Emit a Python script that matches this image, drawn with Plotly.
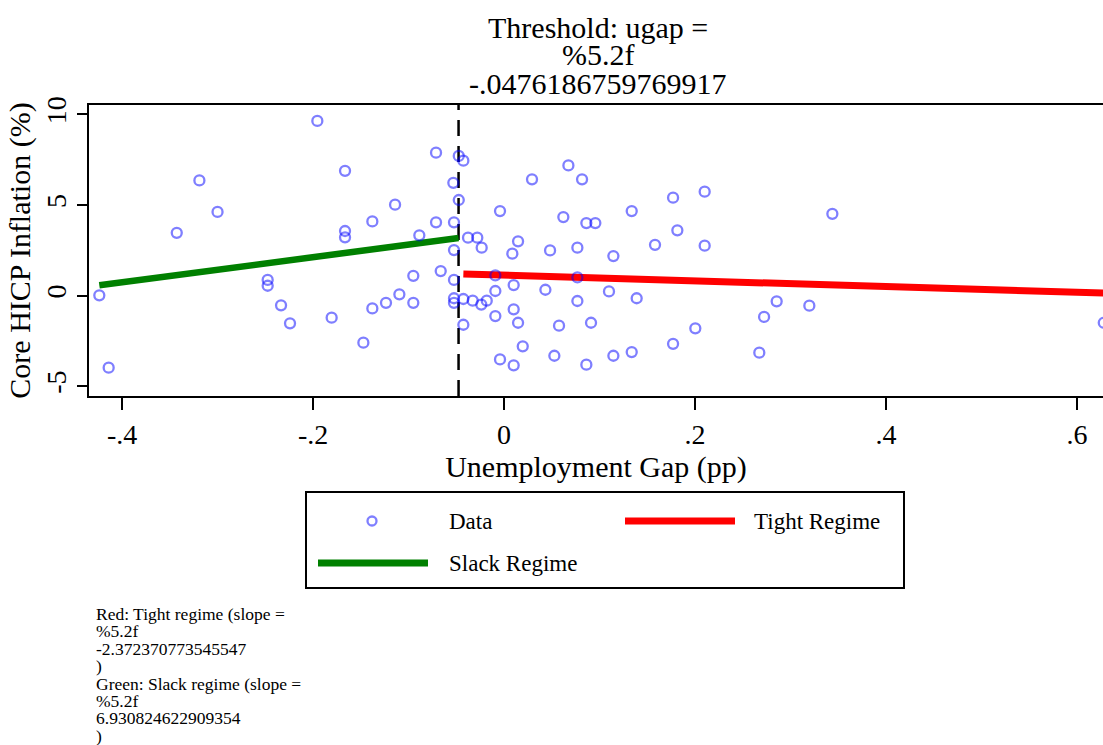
import plotly.graph_objects as go

# ---- data -------------------------------------------------------------
ugap = [
    -0.4238, -0.4140, -0.3427, -0.3190, -0.3000, -0.2475, -0.2475, -0.2335,
    -0.2241, -0.1955, -0.1805, -0.1665, -0.1665, -0.1665, -0.1473, -0.1379,
    -0.1379, -0.1236, -0.1141, -0.1096, -0.0950, -0.0950, -0.0887, -0.0712,
    -0.0712, -0.0663, -0.0531, -0.0524, -0.0524, -0.0524, -0.0524, -0.0524,
    -0.0474, -0.0426, -0.0474, -0.0377, -0.0280, -0.0234, -0.0426, -0.0328,
    -0.0238, -0.0181, -0.0426, -0.0091, -0.0091, -0.0091, -0.0042, -0.0042,
    0.0087, 0.0147, 0.0101, 0.0101, 0.0147, 0.0101, 0.0196, 0.0293,
    0.0433, 0.0482, 0.0527, 0.0576, 0.0621, 0.0674, 0.0768, 0.0768,
    0.0768, 0.0817, 0.0862, 0.0956, 0.0862, 0.0911, 0.1099, 0.1145,
    0.1145, 0.1337, 0.1337, 0.1389, 0.1581, 0.1770, 0.1815, 0.1770,
    0.2003, 0.2101, 0.2101, 0.2673, 0.2723, 0.2855, 0.3197, 0.3438,
    0.6280,
]
core_hicp = [
    0.02, -3.97, 3.47, 6.36, 4.62, 0.87, 0.55, -0.53,
    -1.52, 9.64, -1.21, 6.89, 3.57, 3.22, -2.59, 4.10,
    -0.70, -0.39, 5.02, 0.08, 1.10, -0.39, 3.33, 7.89,
    4.05, 1.36, 6.23, 4.05, 2.52, 0.87, -0.14, -0.39,
    7.71, 7.45, 5.28, 3.20, 3.20, 2.65, -0.18, -0.27,
    -0.49, -0.27, -1.60, 1.12, 0.26, -1.12, 4.67, -3.51,
    2.32, 3.00, 0.59, -0.75, -1.49, -3.84, -2.79, 6.42,
    0.33, 2.50, -3.31, -1.65, 4.34, 7.19, 2.65, 1.01,
    -0.29, 6.42, 4.01, 4.01, -3.80, -1.49, 0.24, 2.19,
    -3.31, 4.67, -3.11, -0.14, 2.81, 5.41, 3.61, -2.65,
    -1.80, 5.74, 2.76, -3.14, -1.17, -0.31, -0.55, 4.52,
    -1.49,
]

threshold = -0.0476186759769917
threshold_label = "-.0476186759769917"
tight_slope_label = "-2.372370773545547"
slack_slope_label = "6.930824622909354"

# fitted regime lines (endpoints)
slack_x = [-0.4238, -0.0476]
slack_y = [0.58, 3.18]
tight_x = [-0.0426, 0.6280]
tight_y = [1.20, 0.15]

x_tickvals = [-0.4, -0.2, 0.0, 0.2, 0.4, 0.6]
x_ticktext = ["-.4", "-.2", "0", ".2", ".4", ".6"]
y_tickvals = [-5, 0, 5, 10]
y_ticktext = ["-5", "0", "5", "10"]

# ---- layout geometry --------------------------------------------------
W, H = 1103, 745
ML, MR, MT, MB = 89, 0, 105, 349
PW = W - ML - MR
PH = H - MT - MB
FONT = "Liberation Serif"


def px(xpix):
    return (xpix - ML) / PW


def py(ypix):
    return (MT + PH - ypix) / PH


DATA_COLOR = "rgba(0,0,255,0.5)"
TIGHT_COLOR = "#ff0000"
SLACK_COLOR = "#008000"

fig = go.Figure()

fig.add_trace(go.Scatter(
    x=slack_x, y=slack_y, mode="lines",
    line=dict(color=SLACK_COLOR, width=6.5), showlegend=False,
    hoverinfo="skip",
))
fig.add_trace(go.Scatter(
    x=tight_x, y=tight_y, mode="lines",
    line=dict(color=TIGHT_COLOR, width=7), showlegend=False,
    hoverinfo="skip",
))
fig.add_trace(go.Scatter(
    x=ugap, y=core_hicp, mode="markers",
    marker=dict(symbol="circle-open", size=10, color=DATA_COLOR,
                line=dict(width=2.3, color=DATA_COLOR)),
    showlegend=False,
))

shapes = [
    # threshold marker
    dict(type="line", xref="x", yref="paper", x0=threshold, x1=threshold,
         y0=0, y1=1, line=dict(color="black", width=2.5, dash="16px,10px"),
         layer="below"),
    # legend frame
    dict(type="rect", xref="paper", yref="paper",
         x0=px(306), x1=px(904), y0=py(588), y1=py(492),
         line=dict(color="black", width=2), fillcolor="white"),
    dict(type="line", xref="paper", yref="paper",
         x0=px(625), x1=px(735), y0=py(521), y1=py(521),
         line=dict(color=TIGHT_COLOR, width=7)),
    dict(type="line", xref="paper", yref="paper",
         x0=px(318), x1=px(428), y0=py(563), y1=py(563),
         line=dict(color=SLACK_COLOR, width=7)),
    dict(type="circle", xref="paper", yref="paper",
         xsizemode="pixel", ysizemode="pixel",
         xanchor=px(372), yanchor=py(521), x0=-4.5, x1=4.5, y0=-4.5, y1=4.5,
         line=dict(color=DATA_COLOR, width=2.3)),
]

annotations = []


def add_text(text, xpix, ypix, size, anchor="center"):
    annotations.append(dict(
        text=text, x=px(xpix), y=py(ypix), xref="paper", yref="paper",
        xanchor=anchor, yanchor="middle", showarrow=False,
        font=dict(family=FONT, size=size, color="black"),
    ))


# title block
add_text("Threshold: ugap =", 598, 27, 30)
add_text("%5.2f", 598, 55, 30)
add_text(threshold_label, 598, 83, 30)

# legend labels
add_text("Data", 447, 521, 23, "left")
add_text("Tight Regime", 752, 521, 23, "left")
add_text("Slack Regime", 447, 563, 23, "left")

# note below the chart
note_lines = [
    "Red: Tight regime (slope =", "%5.2f", tight_slope_label, ")",
    "Green: Slack regime (slope =", "%5.2f", slack_slope_label, ")",
]
for i, line in enumerate(note_lines):
    add_text(line, 94, 614 + 17.4 * i, 17.5, "left")

fig.update_layout(
    width=W, height=H,
    margin=dict(l=ML, r=MR, t=MT, b=MB, pad=0),
    paper_bgcolor="white", plot_bgcolor="white",
    font=dict(family=FONT, color="black"),
    shapes=shapes, annotations=annotations,
    showlegend=False,
)

fig.update_xaxes(
    range=[-0.4346, 0.6272], tickvals=x_tickvals, ticktext=x_ticktext,
    showgrid=False, zeroline=False,
    showline=True, mirror=True, linecolor="black", linewidth=2,
    ticks="outside", ticklen=12, tickwidth=2, tickcolor="black",
    tickfont=dict(family=FONT, size=28, color="black"),
    title=dict(text="Unemployment Gap (pp)", standoff=0,
               font=dict(family=FONT, size=30, color="black")),
    automargin=False,
)
fig.update_yaxes(
    range=[-5.53, 10.52], tickvals=y_tickvals, ticktext=y_ticktext,
    showgrid=False, zeroline=False,
    showline=True, mirror=False, linecolor="black", linewidth=2,
    ticks="outside", ticklen=10, tickwidth=2, tickcolor="black",
    tickangle=-90,
    tickfont=dict(family=FONT, size=28, color="black"),
    title=dict(text="Core HICP Inflation (%)", standoff=1,
               font=dict(family=FONT, size=30, color="black")),
    automargin=False,
)

fig.write_html("out.html")
